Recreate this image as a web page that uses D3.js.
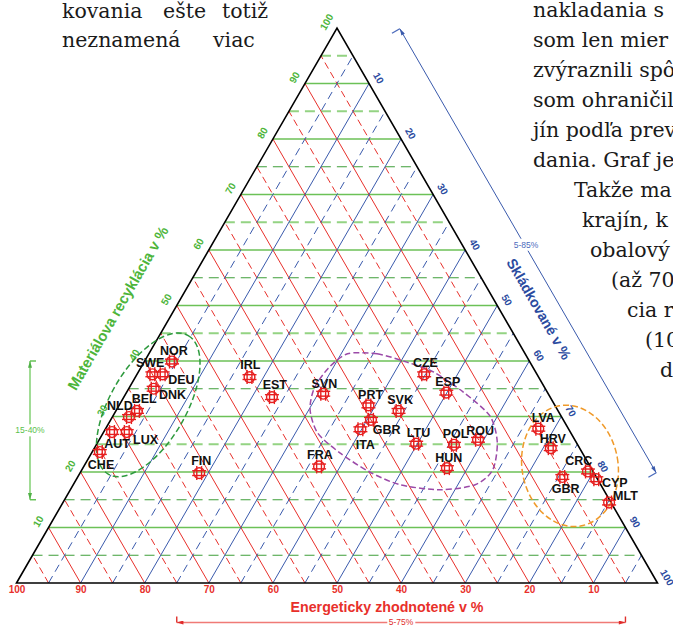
<!DOCTYPE html>
<html>
<head>
<meta charset="utf-8">
<script src="https://cdn.jsdelivr.net/npm/d3@7/dist/d3.min.js"></script>
<style>
  html, body { margin: 0; padding: 0; background: #fff; }
  svg { display: block; }
</style>
</head>
<body>
<svg id="chart" width="673" height="628"></svg>
<script>
// ---- Data: waste treatment shares per country (%) ----
const countries = ["NOR","SWE","DEU","DNK","BEL","NLD","LUX","AUT","CHE","FIN",
                   "IRL","EST","SVN","PRT","GBR","ITA","SVK","CZE","ESP","LTU",
                   "POL","ROU","HUN","FRA","LVA","HRV","GBR","CRC","CYP","MLT"];
const recycling = [39.9,37.6,37.6,35.0,31.0,29.9,27.2,27.2,23.6,19.8,
                   37.1,33.5,34.1,32.0,29.4,27.7,31.0,37.6,34.3,25.1,
                   24.9,25.8,20.7,21.0,27.8,24.3,19.1,20.1,18.7,14.5];
const energy    = [55.8,60.0,58.4,61.1,65.7,67.5,69.2,71.5,75.2,61.6,
                   45.1,43.4,35.1,29.1,30.0,32.5,24.9,17.6,15.8,25.1,
                   19.3,15.1,22.5,42.3,4.7,4.5,5.3,0.8,0.2,0.3];
const landfill  = [4.3,2.4,4.0,3.9,3.3,2.6,3.6,1.3,1.2,18.6,
                   17.8,23.1,30.8,38.9,40.6,39.8,44.1,44.8,49.9,49.8,
                   55.8,59.1,56.8,36.7,67.5,71.2,75.6,79.1,81.1,85.2];

// Axis ticks and grid
const gridValues     = [5,10,15,20,25,30,35,40,45,50,55,60,65,70,75,80,85,90,95];
const energyTicks    = [100,90,80,70,60,50,40,30,20,10];
const recyclingTicks = [10,20,30,40,50,60,70,80,90,100];
const landfillTicks  = [10,20,30,40,50,60,70,80,90,100];

// Highlighted ranges
const recyclingRange = [15,40];
const energyRange    = [5,75];
const landfillRange  = [5,85];

// Group outlines, in (recycling, landfill) %
const westGroupCenter = [32.1, 4.5];
const eastGroupCenter = [21.1, 75.8];
const centralGroupOutline = [
  [41.3,31.0],[41.3,35.6],[39.8,41.0],[38.0,46.1],[34.4,52.5],[30.1,58.8],
  [25.4,62.3],[20.4,64.1],[17.7,62.7],[16.8,57.7],[17.7,51.0],[20.0,45.1],
  [23.4,38.8],[27.0,33.5],[31.2,30.2],[35.1,28.9],[38.7,29.3]
];

// ---- Layout ----
const labelOffsets = [[-12,-6.5],[-16.5,-7.5],[5.5,9.5],[5.3,10],[-5.3,-7.7],[-22,-7.3],
  [6.3,11.7],[-7.7,15.7],[-12,16.7],[-8,-8.3],[-9.3,-8.3],[-9.3,-8.3],[-11.6,-6],
  [-10.3,-6.7],[1.7,14],[-4.7,19.7],[-11.3,-7],[-11.3,-7.3],[-11,-6.7],[-9.3,-7],
  [-11.3,-7],[-11.7,-5],[-11.7,-6.3],[-12,-7.7],[-6.6,-7],[-11,-5.3],[-10.6,15.7],
  [-22.7,-6.7],[5.7,7.7],[4,-2.3]];

const leftBaseX = 16.5, rightBaseX = 657.5, baseY = 583, apexY = 28;

const svg = d3.select("#chart");

// Surrounding body text
const bodyFont = "'DejaVu Serif', 'Liberation Serif', serif";
const leftWords = [
  ["kovania", 62, 18], ["ešte", 163, 18], ["totiž", 222, 18],
  ["neznamená", 62, 47], ["viac", 213, 47]
];
const rightLines = [
  ["nakladania s", 533], ["som len mier", 533], ["zvýraznili spô", 533],
  ["som ohraničil", 533], ["jín podľa prev", 533], ["dania. Graf je", 533],
  ["Takže ma", 574], ["krajín, k", 582], ["obalový", 590], ["(až 70", 611],
  ["cia r", 627], ["(10", 645], ["d", 660]
];
const textG = svg.append("g").attr("font-family", bodyFont).attr("font-size", 20.5).attr("fill", "#1a1a1a");
textG.selectAll("text.lw").data(leftWords).join("text").attr("class","lw")
  .attr("x", d => d[1]).attr("y", d => d[2]).text(d => d[0]);
textG.selectAll("text.rl").data(rightLines).join("text").attr("class","rl")
  .attr("x", d => d[1]).attr("y", (d, i) => 17 + i * 30).text(d => d[0]);

// Ternary scales: horizontal position from (landfill + recycling/2), vertical from recycling
const x = d3.scaleLinear().domain([0, 100]).range([leftBaseX, rightBaseX]);
const y = d3.scaleLinear().domain([0, 100]).range([baseY, apexY]);
const energyScale = d3.scaleLinear().domain([100, 0]).range([leftBaseX, rightBaseX]);
function pt(r, l) { return [x(l + r / 2), y(r)]; }
function ptNorm(r, e, l) { const s = r + e + l; return pt(100 * r / s, 100 * l / s); }

const C = {
  red: "#e8302b", redLight: "#f07a76",
  blue: "#3a5aac", blueText: "#2b4b9f",
  green: "#6cc157", greenDark: "#3f9e3a", greenLight: "#94d383", greenText: "#4db53a"
};

// Grid
const grid = svg.append("g").attr("fill", "none");
const lightDash = new Set([95, 85, 65, 45, 25]);
// recycling (horizontal)
gridValues.forEach(v => {
  const a = pt(v, 0), b = pt(v, 100 - v);
  const solid = v % 10 === 0;
  grid.append("line").attr("x1", a[0]).attr("y1", a[1]).attr("x2", b[0]).attr("y2", b[1])
    .attr("stroke", solid ? C.green : (lightDash.has(v) ? C.greenLight : C.greenDark))
    .attr("stroke-width", solid ? 1.3 : (lightDash.has(v) ? 2 : 1.2))
    .attr("stroke-dasharray", solid ? null : "10,6");
});
// energy (parallel to right side)
gridValues.forEach(v => {
  const a = pt(0, 100 - v), b = pt(100 - v, 0);
  const solid = v % 10 === 0;
  grid.append("line").attr("x1", a[0]).attr("y1", a[1]).attr("x2", b[0]).attr("y2", b[1])
    .attr("stroke", C.red).attr("stroke-width", 1)
    .attr("stroke-dasharray", solid ? null : "7,4");
});
// landfill (parallel to left side)
gridValues.forEach(v => {
  const a = pt(0, v), b = pt(100 - v, v);
  const solid = v % 10 === 0;
  grid.append("line").attr("x1", a[0]).attr("y1", a[1]).attr("x2", b[0]).attr("y2", b[1])
    .attr("stroke", C.blue).attr("stroke-width", 1)
    .attr("stroke-dasharray", solid ? null : "8,5");
});

// Triangle outline
const tri = [pt(0, 0), pt(100, 0), pt(0, 100)];
svg.append("path").attr("d", "M" + tri.map(p => p.join(",")).join("L") + "Z")
  .attr("fill", "none").attr("stroke", "#000").attr("stroke-width", 1.6);

// Bottom axis: energy recovery
const axisB = svg.append("g").attr("transform", `translate(0,${baseY})`)
  .call(d3.axisBottom(energyScale).tickValues(energyTicks).tickSize(0).tickPadding(3).tickFormat(d3.format("d")));
axisB.select(".domain").remove();
axisB.selectAll("text").attr("fill", C.red).attr("font-size", 10).attr("font-weight", "bold")
  .attr("font-family", "'Liberation Sans', Arial, sans-serif");

// Left axis labels: recycling
const nL = [-0.866, -0.5], nR = [0.866, -0.5];
svg.append("g").selectAll("text").data(recyclingTicks).join("text")
  .attr("transform", d => { const p = pt(d, 0); return `translate(${p[0] + 12 * nL[0]},${p[1] + 12 * nL[1]}) rotate(-60)`; })
  .attr("text-anchor", "middle").attr("dy", "0.35em")
  .attr("font-family", "'Liberation Sans', Arial, sans-serif").attr("font-size", 10).attr("font-weight", "bold")
  .attr("fill", C.greenText).text(d => d);

// Right axis labels: landfill
svg.append("g").selectAll("text").data(landfillTicks).join("text")
  .attr("transform", d => { const p = pt(100 - d, d); return `translate(${p[0] + 11 * nR[0]},${p[1] + 11 * nR[1]}) rotate(60)`; })
  .attr("text-anchor", "middle").attr("dy", "0.35em")
  .attr("font-family", "'Liberation Sans', Arial, sans-serif").attr("font-size", 10).attr("font-weight", "bold")
  .attr("fill", C.blueText).text(d => d);

// Axis titles
const titleFont = "'Liberation Sans', Arial, sans-serif";
svg.append("text").attr("x", 387).attr("y", 611.5).attr("text-anchor", "middle")
  .attr("font-family", titleFont).attr("font-size", 15).attr("font-weight", "bold")
  .attr("textLength", 193).attr("lengthAdjust", "spacingAndGlyphs")
  .attr("fill", C.red).text("Energeticky zhodnotené v %");
svg.append("text").attr("transform", "translate(118,308) rotate(-60)").attr("text-anchor", "middle")
  .attr("dy", "0.35em").attr("font-family", titleFont).attr("font-size", 15).attr("font-weight", "bold")
  .attr("textLength", 186).attr("lengthAdjust", "spacingAndGlyphs")
  .attr("fill", C.greenText).text("Materiálova recyklácia v %");
svg.append("text").attr("transform", "translate(539,309) rotate(60)").attr("text-anchor", "middle")
  .attr("dy", "0.35em").attr("font-family", titleFont).attr("font-size", 14.5).attr("font-weight", "bold")
  .attr("textLength", 114).attr("lengthAdjust", "spacingAndGlyphs")
  .attr("fill", C.blueText).text("Skládkované v %");

// Range bars
const defs = svg.append("defs");
function arrowMarker(id, color) {
  defs.append("marker").attr("id", id).attr("viewBox", "0 0 10 6").attr("refX", 10).attr("refY", 3)
    .attr("markerWidth", 9).attr("markerHeight", 4).attr("orient", "auto-start-reverse")
    .attr("markerUnits", "userSpaceOnUse")
    .append("path").attr("d", "M0,0L10,3L0,6Z").attr("fill", color);
}
arrowMarker("arG", "#4fb046");
arrowMarker("arR", "#e02a2a");
arrowMarker("arB", C.blue);

function rangeBar(p1, p2, inward, color, arrowId, label, labelColor, width, tickLen) {
  const g = svg.append("g");
  g.append("line").attr("x1", p1[0]).attr("y1", p1[1]).attr("x2", p2[0]).attr("y2", p2[1])
    .attr("stroke", color).attr("stroke-width", width)
    .attr("marker-start", `url(#${arrowId})`).attr("marker-end", `url(#${arrowId})`);
  [p1, p2].forEach(p => {
    g.append("line").attr("x1", p[0]).attr("y1", p[1])
      .attr("x2", p[0] + inward[0] * tickLen).attr("y2", p[1] + inward[1] * tickLen)
      .attr("stroke", labelColor).attr("stroke-width", 1.4);
  });
  const mx = (p1[0] + p2[0]) / 2, my = (p1[1] + p2[1]) / 2;
  const t = g.append("text").attr("x", mx + label.dx).attr("y", my + label.dy).attr("text-anchor", "middle")
    .attr("dy", "0.35em").attr("font-family", titleFont).attr("font-size", 8.5)
    .attr("fill", labelColor).text(label.text);
  const bb = t.node().getBBox();
  g.insert("rect", "text").attr("x", bb.x - 1.5).attr("y", bb.y - 1).attr("width", bb.width + 3)
    .attr("height", bb.height + 2).attr("fill", "#fff");
}
rangeBar([30, y(recyclingRange[1])], [30, y(recyclingRange[0])], [1, 0], "#8ad47b", "arG",
  { text: `${recyclingRange[0]}-${recyclingRange[1]}%`, dx: 0, dy: 0 }, "#5cbf4c", 1.6, 6);
rangeBar([energyScale(energyRange[1]), 622.5], [energyScale(energyRange[0]), 622.5], [0, -1], C.redLight, "arR",
  { text: `${energyRange[0]}-${energyRange[1]}%`, dx: 0, dy: 0 }, "#e0302c", 1.6, 6);
{
  const off = 54;
  const a = pt(100 - landfillRange[0], landfillRange[0]), b = pt(100 - landfillRange[1], landfillRange[1]);
  rangeBar([a[0] + off * nR[0], a[1] + off * nR[1]], [b[0] + off * nR[0], b[1] + off * nR[1]],
    [-nR[0], -nR[1]], C.blue, "arB",
    { text: `${landfillRange[0]}-${landfillRange[1]}%`, dx: -2, dy: -6 }, "#4d6cbc", 1, 9);
}

// Group outlines
const outlines = svg.append("g").attr("fill", "none").attr("stroke-width", 1.5);
{
  const c = pt(...westGroupCenter);
  outlines.append("ellipse").attr("cx", 0).attr("cy", 0).attr("rx", 80).attr("ry", 38)
    .attr("transform", `translate(${c[0]},${c[1]}) rotate(-60)`)
    .attr("stroke", "#2e9a3e").attr("stroke-dasharray", "6,3");
}
{
  const c = pt(...eastGroupCenter);
  outlines.append("ellipse").attr("cx", 0).attr("cy", 0).attr("rx", 48).attr("ry", 61)
    .attr("transform", `translate(${c[0]},${c[1]}) rotate(-10)`)
    .attr("stroke", "#f09a2a").attr("stroke-dasharray", "6,3");
}
outlines.append("path")
  .attr("d", d3.line().curve(d3.curveCardinalClosed.tension(0.2))(centralGroupOutline.map(d => pt(d[0], d[1]))))
  .attr("stroke", "#9b4aa8").attr("stroke-dasharray", "6,3");

// Country markers
const pts = countries.map((c, i) => ({ name: c, p: ptNorm(recycling[i], energy[i], landfill[i]), off: labelOffsets[i] }));
const mk = svg.append("g").selectAll("g").data(pts).join("g")
  .attr("transform", d => `translate(${d.p[0]},${d.p[1]})`)
  .attr("stroke", "#e61e1e").attr("stroke-width", 1.4).attr("fill", "none");
mk.append("circle").attr("r", 5.4);
[-2.4, 2.4].forEach(o => {
  mk.append("line").attr("x1", o).attr("x2", o).attr("y1", -7).attr("y2", 7);
  mk.append("line").attr("y1", o).attr("y2", o).attr("x1", -7).attr("x2", 7);
});

// Country labels
svg.append("g").selectAll("text").data(pts).join("text")
  .attr("x", d => d.p[0] + d.off[0]).attr("y", d => d.p[1] + d.off[1])
  .attr("font-family", titleFont).attr("font-size", 12.5).attr("font-weight", "bold")
  .attr("fill", "#111").text(d => d.name);
</script>
</body>
</html>
